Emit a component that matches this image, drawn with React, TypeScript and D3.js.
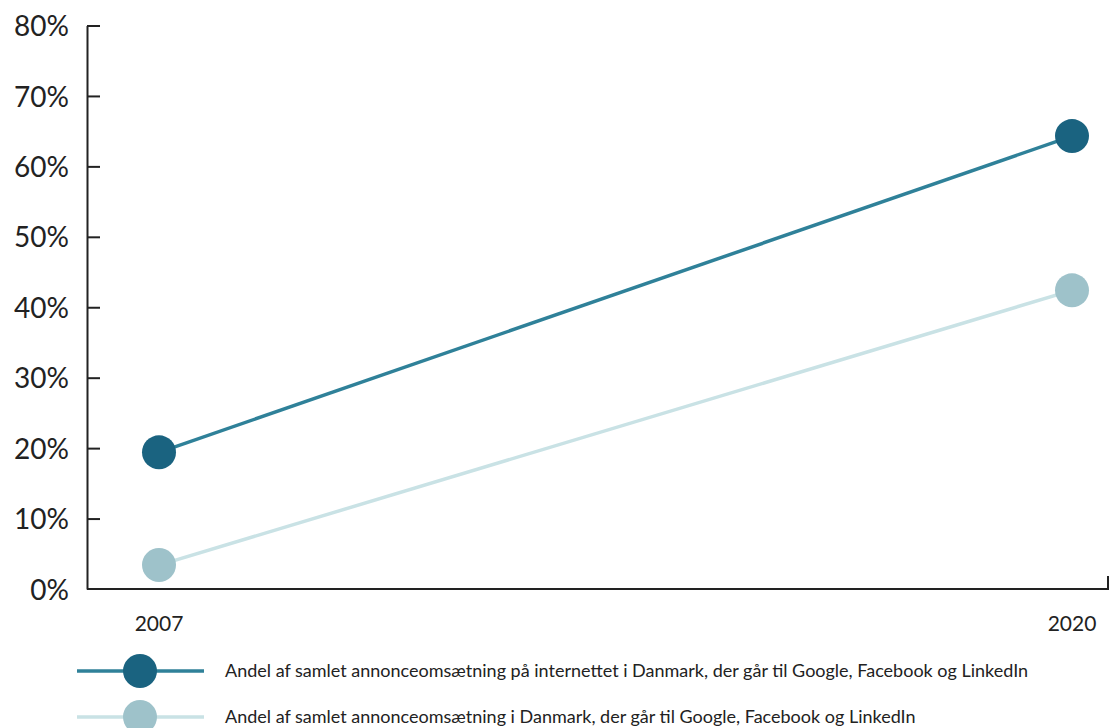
import React, { useEffect, useRef } from 'react';
import * as d3 from 'd3';

const years = ['2007', '2020'];
const yTicks = [0, 10, 20, 30, 40, 50, 60, 70, 80];
const seriesNames = [
  'Andel af samlet annonceomsætning på internettet i Danmark, der går til Google, Facebook og LinkedIn',
  'Andel af samlet annonceomsætning i Danmark, der går til Google, Facebook og LinkedIn',
];
const internetShare = [19.4, 64.3];
const totalShare = [3.4, 42.4];

const lineColors = ['#2f8199', '#c9e2e5'];
const dotColors = ['#1a6380', '#9ec2ca'];

export default function App() {
  const svgRef = useRef<SVGSVGElement>(null);

  useEffect(() => {
    if (!svgRef.current) return;
    const svg = d3.select(svgRef.current);
    svg.selectAll('*').remove();

    const left = 87, right = 1108, top = 25.5, bottom = 589;
    const font = 'Lato, "Open Sans", sans-serif';

    const y = d3.scaleLinear().domain([0, 80]).range([bottom, top]);
    const x = d3.scalePoint<string>().domain(years).range([159, 1072]);

    // y axis
    const yAxis = svg.append('g').attr('transform', `translate(${left},0)`)
      .call(d3.axisRight(y).tickValues(yTicks).tickSize(13).tickSizeOuter(0).tickFormat(d => `${d}%`));
    yAxis.select('.domain').attr('stroke', '#222').attr('stroke-width', 2);
    yAxis.selectAll('.tick line').attr('stroke', '#222').attr('stroke-width', 2);
    yAxis.selectAll('.tick text')
      .attr('x', -18).attr('text-anchor', 'end').attr('dy', '0.36em')
      .style('font-family', font).style('font-size', '28px').attr('fill', '#222');
    yAxis.selectAll('.tick').filter(d => d === 0).select('line').remove();

    // x axis
    svg.append('path')
      .attr('d', `M${left},${bottom}H${right}V${bottom - 13}`)
      .attr('fill', 'none').attr('stroke', '#222').attr('stroke-width', 2);
    svg.append('g').selectAll('text').data(years).enter().append('text')
      .attr('x', d => x(d) as number).attr('y', 631)
      .attr('text-anchor', 'middle')
      .style('font-family', font).style('font-size', '21px').attr('fill', '#222')
      .text(d => d);

    const series = [internetShare, totalShare];
    const line = d3.line<number>().x((_, i) => x(years[i]) as number).y(d => y(d));

    // draw light series first
    [1, 0].forEach(s => {
      svg.append('path').datum(series[s]).attr('d', line)
        .attr('fill', 'none').attr('stroke', lineColors[s]).attr('stroke-width', 3.5);
      svg.append('g').selectAll('circle').data(series[s]).enter().append('circle')
        .attr('cx', (_, i) => x(years[i]) as number).attr('cy', d => y(d))
        .attr('r', 17).attr('fill', dotColors[s]);
    });

    // legend
    const legendY = [671, 717];
    seriesNames.forEach((name, s) => {
      const g = svg.append('g').attr('transform', `translate(0,${legendY[s]})`);
      g.append('line').attr('x1', 77).attr('x2', 204).attr('y1', 0).attr('y2', 0)
        .attr('stroke', lineColors[s]).attr('stroke-width', 3.5);
      g.append('circle').attr('cx', 140).attr('cy', 0).attr('r', 17).attr('fill', dotColors[s]);
      g.append('text').attr('x', 225).attr('y', 0).attr('dy', '0.36em')
        .style('font-family', font).style('font-size', '18px').attr('fill', '#222')
        .text(name);
    });
  }, []);

  return (
    <div style={{ position: 'absolute', left: 0, top: 0 }}>
      <svg ref={svgRef} width={1109} height={728} style={{ display: 'block' }} />
    </div>
  );
}
